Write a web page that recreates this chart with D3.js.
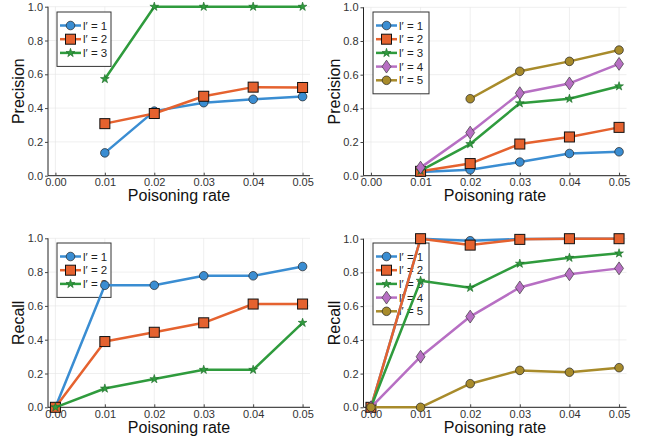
<!DOCTYPE html>
<html>
<head>
<meta charset="utf-8">
<script src="https://cdn.jsdelivr.net/npm/d3@7"></script>
<style>
  body { margin: 0; background: #fff; }
  svg { display: block; font-family: "Liberation Sans", Arial, sans-serif; }
</style>
</head>
<body>
<div id="chart"></div>
<script>
// poisoning rates on the x axis
var rates = [0.00, 0.01, 0.02, 0.03, 0.04, 0.05];
var xTicks = [0.00, 0.01, 0.02, 0.03, 0.04, 0.05];
var yTicks = [0.0, 0.2, 0.4, 0.6, 0.8, 1.0];
var seriesNames = ["l\u2032 = 1", "l\u2032 = 2", "l\u2032 = 3", "l\u2032 = 4", "l\u2032 = 5"];

// precision, left panel (3 series)
var precA1 = [null, 0.135, 0.382, 0.432, 0.452, 0.468];
var precA2 = [null, 0.308, 0.368, 0.470, 0.524, 0.522];
var precA3 = [null, 0.572, 1.0, 1.0, 1.0, 1.0];

// precision, right panel (5 series)
var precB1 = [null, 0.022, 0.035, 0.081, 0.132, 0.142];
var precB2 = [null, 0.026, 0.072, 0.188, 0.230, 0.287];
var precB3 = [null, 0.030, 0.188, 0.430, 0.457, 0.531];
var precB4 = [null, 0.048, 0.256, 0.490, 0.548, 0.664];
var precB5 = [null, null, 0.457, 0.620, 0.679, 0.746];

// recall, left panel
var recA1 = [0, 0.722, 0.722, 0.778, 0.778, 0.833];
var recA2 = [0, 0.389, 0.444, 0.500, 0.611, 0.611];
var recA3 = [0, 0.111, 0.167, 0.222, 0.222, 0.500];

// recall, right panel
var recB1 = [0, 1.0, 0.988, 0.998, 1.0, 1.0];
var recB2 = [0, 1.0, 0.962, 0.996, 1.0, 1.0];
var recB3 = [0, 0.751, 0.709, 0.852, 0.887, 0.913];
var recB4 = [0, 0.300, 0.538, 0.711, 0.789, 0.824];
var recB5 = [0, 0.0, 0.140, 0.219, 0.208, 0.235];

var colors = ["#3a8dd2", "#e5622f", "#2f9b3d", "#b76fc3", "#a88b2b"];
var shapes = ["circle", "square", "star", "diamond", "circle"];

var width = 645, height = 443;

var svg = d3.select("#chart").append("svg")
    .attr("width", width)
    .attr("height", height);

var panels = [
    { x0: 48, x1: 310, y0: 175.7, y1: 6.7, ylabel: "Precision", series: [precA1, precA2, precA3],
      legend: { x: 57, y: 12, w: 54 } },
    { x0: 363.5, x1: 626.5, y0: 175.7, y1: 7.3, ylabel: "Precision", series: [precB1, precB2, precB3, precB4, precB5],
      legend: { x: 373, y: 12, w: 56 } },
    { x0: 48, x1: 310, y0: 407.3, y1: 238.3, ylabel: "Recall", series: [recA1, recA2, recA3],
      legend: { x: 57, y: 243, w: 54 } },
    { x0: 363.5, x1: 626.5, y0: 407.3, y1: 238.7, ylabel: "Recall", series: [recB1, recB2, recB3, recB4, recB5],
      legend: { x: 373, y: 243, w: 56 } }
];

function drawMarker(g, shape, color, cx, cy) {
    if (shape == "circle") {
        g.append("circle").attr("cx", cx).attr("cy", cy).attr("r", 4.3)
            .attr("fill", color).attr("stroke", "#222").attr("stroke-width", 0.7);
    } else if (shape == "square") {
        g.append("rect").attr("x", cx - 5).attr("y", cy - 5).attr("width", 10).attr("height", 10)
            .attr("fill", color).attr("stroke", "#111").attr("stroke-width", 1);
    } else if (shape == "diamond") {
        var p = d3.symbol().type(d3.symbolDiamond).size(48);
        g.append("path").attr("d", p()).attr("transform", "translate(" + cx + "," + cy + ") scale(1.2,1)")
            .attr("fill", color).attr("stroke", "#333").attr("stroke-width", 0.6);
    } else {
        var s = d3.symbol().type(d3.symbolStar).size(24);
        g.append("path").attr("d", s()).attr("transform", "translate(" + cx + "," + cy + ")")
            .attr("fill", color).attr("stroke", "#1d6a28").attr("stroke-width", 0.6);
    }
}

panels.forEach(function (p) {
    var x = d3.scaleLinear().domain([-0.0015, 0.0515]).range([p.x0, p.x1]);
    var y = d3.scaleLinear().domain([0, 1]).range([p.y0, p.y1]);
    var g = svg.append("g");

    // grid
    g.selectAll(".gx").data(xTicks).enter().append("line")
        .attr("x1", function (d) { return x(d); }).attr("x2", function (d) { return x(d); })
        .attr("y1", p.y0).attr("y2", p.y1)
        .attr("stroke", "#e4e4e4").attr("stroke-width", 0.6);
    g.selectAll(".gy").data(yTicks).enter().append("line")
        .attr("x1", p.x0).attr("x2", p.x1)
        .attr("y1", function (d) { return y(d); }).attr("y2", function (d) { return y(d); })
        .attr("stroke", "#e4e4e4").attr("stroke-width", 0.6);

    // axes
    var xAxis = d3.axisBottom(x).tickValues(xTicks).tickFormat(d3.format(".2f"))
        .tickSizeInner(-3).tickSizeOuter(0).tickPadding(3);
    var yAxis = d3.axisLeft(y).tickValues(yTicks).tickFormat(d3.format(".1f"))
        .tickSizeInner(3).tickSizeOuter(0).tickPadding(2);

    var gx = g.append("g").attr("transform", "translate(0," + p.y0 + ")").call(xAxis);
    gx.select(".domain").attr("d", "M" + p.x0 + ",0H" + p.x1).attr("stroke", "#222");
    var gy = g.append("g").attr("transform", "translate(" + p.x0 + ",0)").call(yAxis);
    gy.select(".domain").attr("d", "M0," + p.y0 + "V" + p.y1).attr("stroke", "#222");
    [gx, gy].forEach(function (a) {
        a.selectAll(".tick line").attr("stroke", "#444");
        a.selectAll(".tick text").attr("fill", "#333").style("font-size", "11px")
            .style("font-family", "Liberation Sans, Arial, sans-serif");
    });

    // labels
    g.append("text").attr("x", (p.x0 + p.x1) / 2).attr("y", p.y0 + 25.5)
        .attr("text-anchor", "middle").style("font-size", "16px").attr("fill", "#111")
        .text("Poisoning rate");
    g.append("text")
        .attr("transform", "translate(" + (p.x0 - 24) + "," + ((p.y0 + p.y1) / 2) + ") rotate(-90)")
        .attr("text-anchor", "middle").style("font-size", "16px").attr("fill", "#111")
        .text(p.ylabel);

    // legend (drawn under the data, as in the picture)
    var L = p.legend, n = p.series.length, step = 13.7;
    var lg = g.append("g");
    lg.append("rect").attr("x", L.x).attr("y", L.y).attr("width", L.w).attr("height", 14 + (n - 1) * step + 13)
        .attr("fill", "#fff").attr("stroke", "#333").attr("stroke-width", 1);
    p.series.forEach(function (s, i) {
        var ly = L.y + 13.5 + i * step;
        lg.append("line").attr("x1", L.x + 3).attr("x2", L.x + 24).attr("y1", ly).attr("y2", ly)
            .attr("stroke", colors[i]).attr("stroke-width", 2.5);
        drawMarker(lg, shapes[i], colors[i], L.x + 13.5, ly);
        lg.append("text").attr("x", L.x + 26).attr("y", ly + 4).style("font-size", "11.5px")
            .attr("fill", "#222").text(seriesNames[i]);
    });

    // series
    var line = d3.line()
        .defined(function (d) { return d.v != null; })
        .x(function (d) { return x(d.r); })
        .y(function (d) { return y(d.v); });

    p.series.forEach(function (s, i) {
        var pts = rates.map(function (r, j) { return { r: r, v: s[j] }; });
        var sg = g.append("g");
        sg.append("path").datum(pts).attr("d", line)
            .attr("fill", "none").attr("stroke", colors[i]).attr("stroke-width", 2.5)
            .attr("stroke-linejoin", "round");
        pts.filter(function (d) { return d.v != null; }).forEach(function (d) {
            drawMarker(sg, shapes[i], colors[i], x(d.r), y(d.v));
        });
    });
});
</script>
</body>
</html>
